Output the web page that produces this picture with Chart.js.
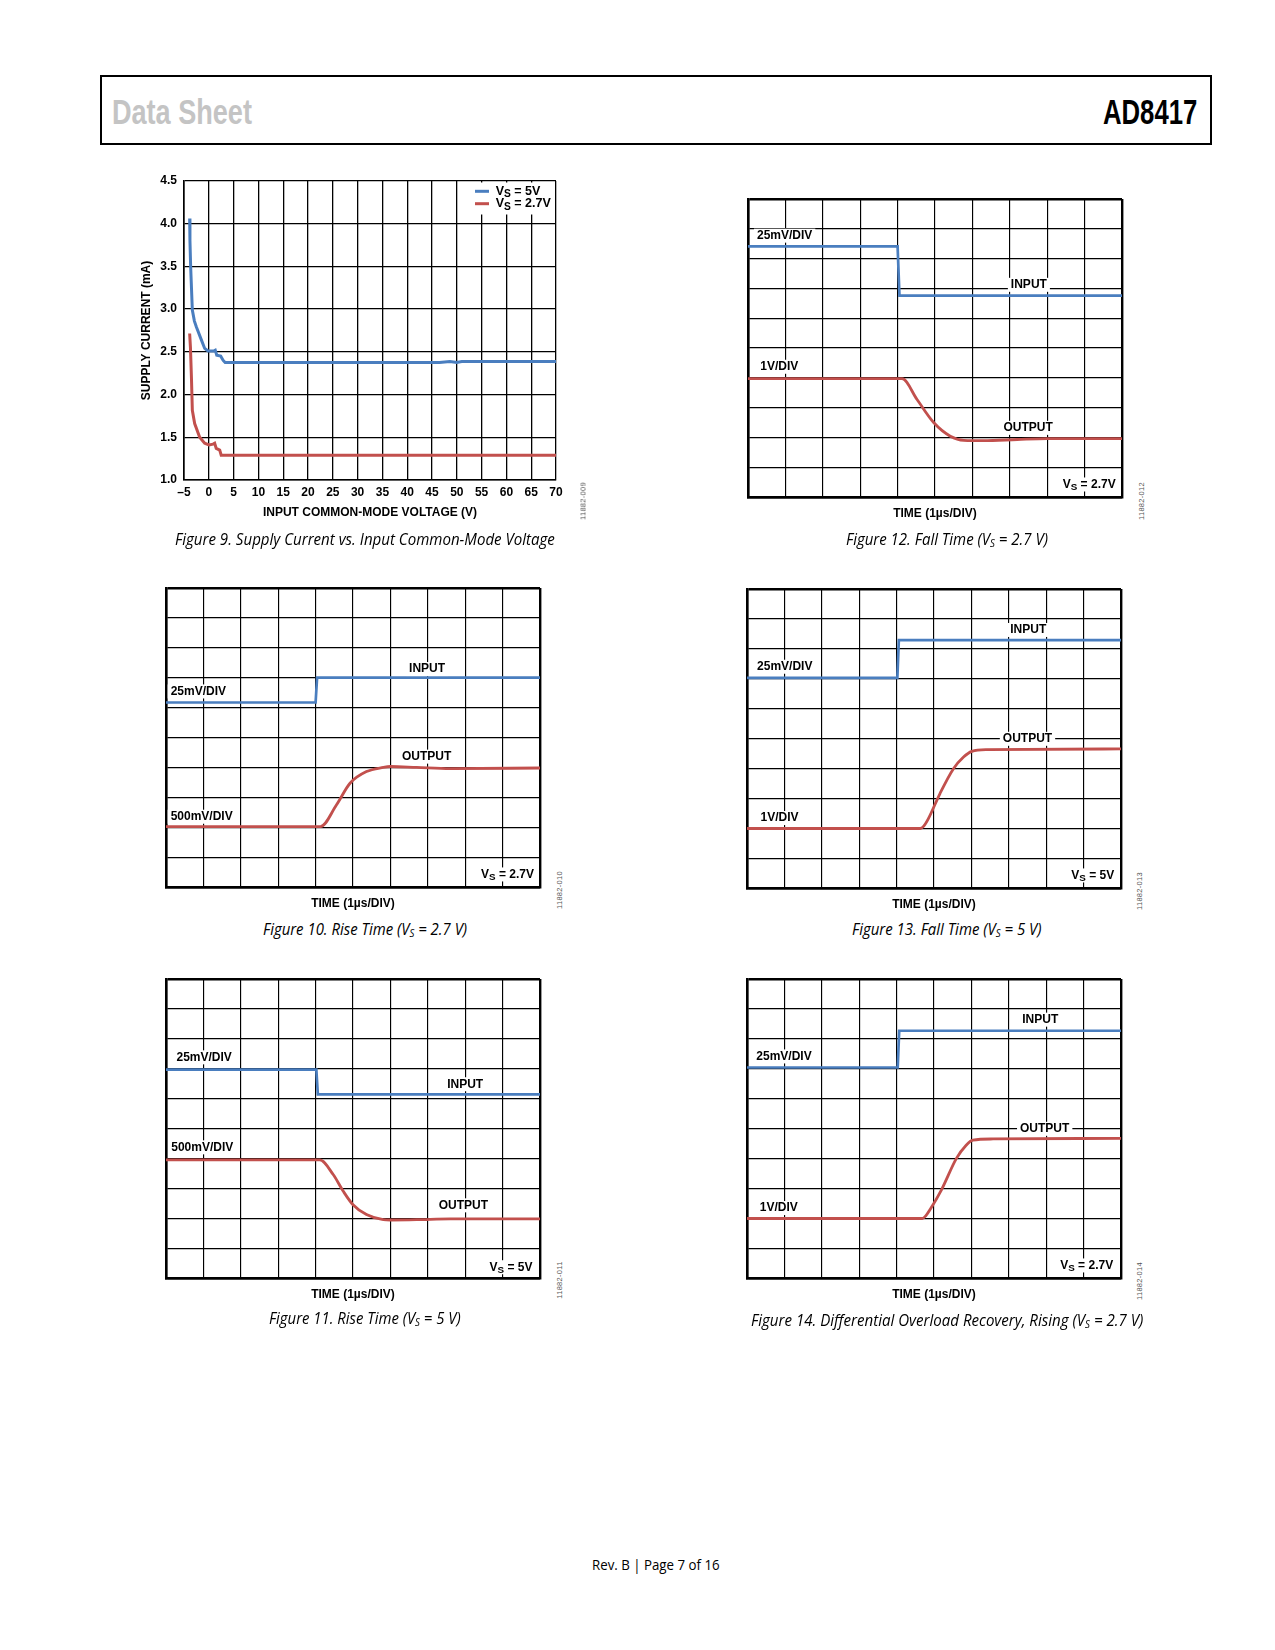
<!DOCTYPE html>
<html><head><meta charset="utf-8">
<script src="https://cdn.jsdelivr.net/npm/chart.js@4.4.1/dist/chart.umd.min.js"></script>
<style>
html,body{margin:0;padding:0;background:#fff;}
#page{position:relative;width:1275px;height:1650px;overflow:hidden;background:#fff;}
.hdr{position:absolute;left:100px;top:75px;width:1112px;height:70px;border:2px solid #000;box-sizing:border-box;}
.htxt{position:absolute;font-family:"Liberation Sans Narrow","Liberation Sans",Arial,sans-serif;font-weight:bold;font-size:35px;line-height:35px;white-space:nowrap;transform-origin:0 0;}
.cap{position:absolute;font-family:"Open Sans",sans-serif;font-style:italic;font-size:15.5px;line-height:15.5px;white-space:nowrap;color:#000;}
.cap sub{font-size:10px;vertical-align:-2px;line-height:0;}
.fid{position:absolute;font-family:"Liberation Sans",Arial,sans-serif;font-size:7.5px;color:#555;white-space:nowrap;transform:translate(-50%,-50%) rotate(-90deg);letter-spacing:0.3px;}
.foot{position:absolute;font-family:"Open Sans",sans-serif;font-size:14px;line-height:14px;white-space:nowrap;color:#000;}
</style>
</head><body>
<div id="page">
  <div class="hdr"></div>
  <div class="htxt" id="ds" style="left:112px;top:94px;color:#c4c4c4;">Data Sheet</div>
  <div class="htxt" id="pn" style="top:94px;color:#000;">AD8417</div>
</div>
<script>
// ---------------- DATA ----------------
// Figure 9: supply current vs input common-mode voltage
const fig9SeriesNames = ['V_S = 5V', 'V_S = 2.7V'];
const fig9Vcm5 = [-3.86, -3.8, -3.66, -3.32, -2.9, -2.5, -1.5, -0.83, -0.16, 1.0, 1.3, 1.6, 2.4, 2.9, 3.3, 46.5, 48.6, 50.0, 51.0, 70];
const fig9I5   = [4.06, 3.8, 3.5, 2.99, 2.86, 2.79, 2.64, 2.54, 2.51, 2.51, 2.52, 2.46, 2.45, 2.40, 2.375, 2.375, 2.387, 2.377, 2.387, 2.387];
const fig9Vcm27 = [-3.86, -3.7, -3.5, -3.32, -2.85, -1.84, -0.83, 0.04, 0.85, 1.18, 1.5, 2.2, 2.5, 70];
const fig9I27   = [2.715, 2.55, 2.2, 1.816, 1.66, 1.50, 1.43, 1.41, 1.42, 1.43, 1.37, 1.35, 1.29, 1.29];
const fig9XTicks = [-5, 70, 5];      // min, max, step (V)
const fig9YTicks = [1.0, 4.5, 0.5];  // min, max, step (mA)

// Scope screens: 10 x 10 divisions, values in divisions
const scopeDivs = [0, 10, 1];
const fig10InT = [0, 4.0, 4.04, 10];
const fig10InV = [6.17, 6.17, 7.0, 7.0];
const fig10OutT = [0, 4.13, 4.56, 4.92, 5.36, 5.81, 6.0, 6.7, 7.6, 10];
const fig10OutV = [2.02, 2.02, 2.75, 3.47, 3.86, 4.0, 4.03, 4.0, 3.96, 3.98];
const fig10Text = ['25mV/DIV', 'INPUT', '500mV/DIV', 'OUTPUT', 'V_S = 2.7V'];

const fig11InT = [0, 4.02, 4.06, 10];
const fig11InV = [6.97, 6.97, 6.14, 6.14];
const fig11OutT = [0, 4.11, 4.47, 4.74, 5.0, 5.36, 5.81, 6.0, 6.7, 7.6, 10];
const fig11OutV = [3.95, 3.95, 3.46, 2.90, 2.45, 2.12, 1.95, 1.94, 1.95, 1.98, 1.98];
const fig11Text = ['25mV/DIV', 'INPUT', '500mV/DIV', 'OUTPUT', 'V_S = 5V'];

const fig12InT = [0, 4.0, 4.05, 10];
const fig12InV = [8.41, 8.41, 6.76, 6.76];
const fig12OutT = [0, 4.12, 4.52, 4.97, 5.41, 5.77, 6.3, 7.2, 8.0, 10];
const fig12OutV = [3.97, 3.97, 3.27, 2.49, 2.04, 1.90, 1.89, 1.93, 1.96, 1.96];
const fig12Text = ['25mV/DIV', 'INPUT', '1V/DIV', 'OUTPUT', 'V_S = 2.7V'];

const fig13InT = [0, 4.02, 4.06, 10];
const fig13InV = [7.03, 7.03, 8.29, 8.29];
const fig13OutT = [0, 4.63, 4.72, 4.85, 5.16, 5.52, 5.79, 6.01, 6.41, 10];
const fig13OutV = [1.99, 1.99, 2.06, 2.32, 3.16, 3.99, 4.38, 4.57, 4.63, 4.65];
const fig13Text = ['INPUT', '25mV/DIV', 'OUTPUT', '1V/DIV', 'V_S = 5V'];

const fig14InT = [0, 4.03, 4.07, 10];
const fig14InV = [7.04, 7.04, 8.27, 8.27];
const fig14OutT = [0, 4.69, 4.78, 4.9, 5.2, 5.6, 5.86, 6.04, 6.58, 10];
const fig14OutV = [1.99, 1.99, 2.08, 2.3, 2.95, 4.0, 4.44, 4.61, 4.65, 4.67];
const fig14Text = ['INPUT', '25mV/DIV', 'OUTPUT', '1V/DIV', 'V_S = 2.7V'];

const captions = [
  'Figure 9. Supply Current vs. Input Common-Mode Voltage',
  'Figure 10. Rise Time (V<sub>S</sub> = 2.7 V)',
  'Figure 11. Rise Time (V<sub>S</sub> = 5 V)',
  'Figure 12. Fall Time (V<sub>S</sub> = 2.7 V)',
  'Figure 13. Fall Time (V<sub>S</sub> = 5 V)',
  'Figure 14. Differential Overload Recovery, Rising (V<sub>S</sub> = 2.7 V)'
];
const figIds = ['11882-009', '11882-010', '11882-011', '11882-012', '11882-013', '11882-014'];
const timeTitle = 'TIME (1µs/DIV)';
const footerText = 'Rev. B | Page 7 of 16';

// ---------------- RENDERING ----------------
const BLUE = '#4a7ebf', RED = '#c2504d';
const FONT = '"Liberation Sans", Arial, Helvetica, sans-serif';
Chart.defaults.font.family = FONT;
Chart.defaults.color = '#000';
const page = document.getElementById('page');

function pts(xs, ys) { return xs.map((x, i) => ({ x: x, y: ys[i] })); }

function makeCanvas(left, top, w, h) {
  const c = document.createElement('canvas');
  c.width = w; c.height = h;
  c.style.cssText = 'position:absolute;left:' + left + 'px;top:' + top + 'px;width:' + w + 'px;height:' + h + 'px;';
  page.appendChild(c);
  return c;
}

function richLayout(ctx, text, x, align, size) {
  const parts = [];
  for (let i = 0; i < text.length; i++) {
    if (text[i] === '_') { parts.push({ t: text[i + 1], sub: true }); i++; }
    else if (parts.length && !parts[parts.length - 1].sub) parts[parts.length - 1].t += text[i];
    else parts.push({ t: text[i], sub: false });
  }
  const main = 'bold ' + size + 'px ' + FONT;
  const sub = 'bold ' + (size * 0.82) + 'px ' + FONT;
  let w = 0;
  parts.forEach(p => { ctx.font = p.sub ? sub : main; p.w = ctx.measureText(p.t).width; w += p.w; });
  const sx = align === 'left' ? x : align === 'right' ? x - w : x - w / 2;
  return { parts: parts, w: w, sx: sx, main: main, sub: sub };
}
function richDraw(ctx, r, y) {
  ctx.textBaseline = 'middle'; ctx.textAlign = 'left'; ctx.fillStyle = '#000';
  let cx = r.sx;
  r.parts.forEach(p => { ctx.font = p.sub ? r.sub : r.main; ctx.fillText(p.t, cx, y + (p.sub ? 3 : 0)); cx += p.w; });
}

const scopeLabelPlugin = {
  id: 'scopeLabels',
  afterDatasetsDraw(chart, args, opts) {
    const ctx = chart.ctx, xs = chart.scales.x, ys = chart.scales.y;
    (opts.items || []).forEach(it => {
      const px = xs.getPixelForValue(it.x), py = ys.getPixelForValue(it.y);
      ctx.save();
      const r = richLayout(ctx, it.text, px, it.align, 12);
      ctx.fillStyle = '#fff';
      ctx.fillRect(r.sx - 3, py - 7, r.w + 6, 14);
      richDraw(ctx, r, py);
      ctx.restore();
    });
  }
};

const legendPlugin = {
  id: 'boxLegend',
  afterDatasetsDraw(chart, args, opts) {
    if (!opts.show) return;
    const ctx = chart.ctx, a = chart.chartArea;
    ctx.save();
    ctx.fillStyle = '#fff';
    ctx.fillRect(a.right - 88, a.top + 1.5, 86.5, 32);
    chart.data.datasets.forEach((ds, i) => {
      const y = a.top + 10.3 + i * 12.4;
      ctx.strokeStyle = ds.borderColor; ctx.lineWidth = 3;
      ctx.beginPath(); ctx.moveTo(a.right - 81, y); ctx.lineTo(a.right - 67, y); ctx.stroke();
      const r = richLayout(ctx, ds.label, a.right - 60.3, 'left', 12.5);
      richDraw(ctx, r, y);
    });
    ctx.restore();
  }
};
Chart.register(scopeLabelPlugin, legendPlugin);

// ----- Figure 9 -----
(function () {
  const L = 120, T = 160, W = 480, H = 375;
  const c = makeCanvas(L, T, W, H);
  new Chart(c, {
    type: 'line',
    data: {
      datasets: [
        { label: fig9SeriesNames[0], data: pts(fig9Vcm5, fig9I5), borderColor: BLUE, borderWidth: 3, pointRadius: 0, tension: 0 },
        { label: fig9SeriesNames[1], data: pts(fig9Vcm27, fig9I27), borderColor: RED, borderWidth: 3, pointRadius: 0, tension: 0 }
      ]
    },
    options: {
      responsive: false, animation: false,
      layout: { padding: { left: 0, top: 21, right: 44, bottom: 0 } },
      plugins: { legend: { display: false }, tooltip: { enabled: false }, boxLegend: { show: true } },
      scales: {
        x: {
          type: 'linear', min: fig9XTicks[0], max: fig9XTicks[1],
          ticks: { stepSize: fig9XTicks[2], padding: 5, color: '#000', font: { size: 12, weight: 'bold' }, maxRotation: 0,
                   callback: v => (v < 0 ? '\u2013' + Math.abs(v) : String(v)) },
          grid: { color: '#000', lineWidth: 1.3, drawTicks: false },
          border: { color: '#000', width: 1.6 },
          title: { display: true, text: 'INPUT COMMON-MODE VOLTAGE (V)', color: '#000', font: { size: 12, weight: 'bold' }, padding: { top: 0, bottom: 14.8 } },
          afterFit: s => { s.height = 55; }
        },
        y: {
          min: fig9YTicks[0], max: fig9YTicks[1],
          ticks: { stepSize: fig9YTicks[2], padding: 7, color: '#000', font: { size: 12, weight: 'bold' }, callback: v => Number(v).toFixed(1) },
          grid: { color: '#000', lineWidth: 1.3, drawTicks: false },
          border: { color: '#000', width: 1.6 },
          title: { display: true, text: 'SUPPLY CURRENT (mA)', color: '#000', font: { size: 12, weight: 'bold' }, padding: { top: 19.8, bottom: 0 } },
          afterFit: s => { s.width = 64; }
        }
      }
    }
  });
})();

// ----- Scope figures -----
function scope(rect, inT, inV, outT, outV, items) {
  const Lp = rect[0], Tp = rect[1], Rp = rect[2], Bp = rect[3];
  const c = makeCanvas(Lp - 10, Tp - 10, Math.round(Rp - Lp + 20), Math.round(Bp - Tp + 40));
  const gw = ctx => (ctx.tick && (ctx.tick.value === scopeDivs[0] || ctx.tick.value === scopeDivs[1])) ? 2.4 : 1.15;
  new Chart(c, {
    type: 'line',
    data: {
      datasets: [
        { label: 'INPUT', data: pts(inT, inV), borderColor: BLUE, borderWidth: 2.7, pointRadius: 0, tension: 0 },
        { label: 'OUTPUT', data: pts(outT, outV), borderColor: RED, borderWidth: 2.8, pointRadius: 0, cubicInterpolationMode: 'monotone' }
      ]
    },
    options: {
      responsive: false, animation: false,
      layout: { padding: { left: 0, top: 10, right: 10, bottom: 0 } },
      plugins: { legend: { display: false }, tooltip: { enabled: false }, scopeLabels: { items: items } },
      scales: {
        x: {
          type: 'linear', min: scopeDivs[0], max: scopeDivs[1],
          ticks: { stepSize: scopeDivs[2], display: false },
          grid: { color: '#000', lineWidth: gw, drawTicks: false },
          border: { color: '#000', width: 2.4 },
          title: { display: true, text: timeTitle, color: '#000', font: { size: 12, weight: 'bold' }, padding: { top: 0, bottom: 5.8 } },
          afterFit: s => { s.height = 30; }
        },
        y: {
          min: scopeDivs[0], max: scopeDivs[1],
          ticks: { stepSize: scopeDivs[2], display: false },
          grid: { color: '#000', lineWidth: gw, drawTicks: false },
          border: { color: '#000', width: 2.4 },
          afterFit: s => { s.width = 10; }
        }
      }
    }
  });
}
function items(texts, pos) { return texts.map((t, i) => ({ text: t, x: pos[i][0], y: pos[i][1], align: pos[i][2] })); }

scope([166.3, 588.3, 540, 887], fig10InT, fig10InV, fig10OutT, fig10OutV,
  items(fig10Text, [[0.125, 6.54, 'left'], [6.98, 7.29, 'center'], [0.125, 2.35, 'left'], [6.97, 4.36, 'center'], [9.84, 0.42, 'right']]));
scope([166.3, 979.3, 540, 1278.3], fig11InT, fig11InV, fig11OutT, fig11OutV,
  items(fig11Text, [[0.28, 7.38, 'left'], [8.0, 6.48, 'center'], [0.14, 4.37, 'left'], [7.95, 2.43, 'center'], [9.8, 0.36, 'right']]));
scope([747.7, 199.3, 1121.5, 497.7], fig12InT, fig12InV, fig12OutT, fig12OutV,
  items(fig12Text, [[0.24, 8.77, 'left'], [7.51, 7.12, 'center'], [0.33, 4.37, 'left'], [7.49, 2.32, 'center'], [9.83, 0.42, 'right']]));
scope([746.7, 589, 1121, 887.7], fig13InT, fig13InV, fig13OutT, fig13OutV,
  items(fig13Text, [[7.52, 8.63, 'center'], [0.27, 7.4, 'left'], [7.5, 4.99, 'center'], [0.36, 2.34, 'left'], [9.82, 0.42, 'right']]));
scope([747.3, 979, 1121, 1277.7], fig14InT, fig14InV, fig14OutT, fig14OutV,
  items(fig14Text, [[7.84, 8.64, 'center'], [0.25, 7.41, 'left'], [7.96, 4.99, 'center'], [0.34, 2.34, 'left'], [9.79, 0.42, 'right']]));

// ----- text: captions, ids, header, footer -----
const capPlaces = [[365, 546, 380], [364.5, 935.5, 204], [365, 1325, 192], [947, 546, 202], [947, 935.5, 190], [947, 1327, 392]];
const capEls = [];
captions.forEach((t, i) => {
  const d = document.createElement('div');
  d.className = 'cap';
  d.innerHTML = t;
  d.style.left = capPlaces[i][0] + 'px';
  d.style.top = (capPlaces[i][1] - 13.8) + 'px';
  page.appendChild(d);
  capEls.push(d);
});
const idPlaces = [[583, 501], [558.6, 890], [558.6, 1280], [1140.5, 501], [1139, 891], [1139, 1281]];
figIds.forEach((t, i) => {
  const d = document.createElement('div');
  d.className = 'fid'; d.textContent = t;
  d.style.left = idPlaces[i][0] + 'px'; d.style.top = idPlaces[i][1] + 'px';
  page.appendChild(d);
});
const ft = document.createElement('div');
ft.className = 'foot'; ft.textContent = footerText;
ft.style.top = (1570 - 12.4) + 'px';
page.appendChild(ft);

function fit() {
  capEls.forEach((d, i) => {
    const w = d.offsetWidth;
    const k = capPlaces[i][2] / w;
    d.style.transformOrigin = '0 0';
    d.style.transform = 'translateX(' + (-capPlaces[i][2] / 2) + 'px) scaleX(' + k + ')';
  });
  const fw = ft.offsetWidth, fk = 128 / fw;
  ft.style.left = '656px';
  ft.style.transformOrigin = '0 0';
  ft.style.transform = 'translateX(-64px) scaleX(' + fk + ')';
  const ds = document.getElementById('ds');
  ds.style.transform = 'scaleX(' + (140 / ds.offsetWidth) + ')';
  const pn = document.getElementById('pn');
  pn.style.left = (1197 - 94) + 'px';
  pn.style.transform = 'scaleX(' + (94 / pn.offsetWidth) + ')';
}
fit();
if (document.fonts && document.fonts.ready) document.fonts.ready.then(fit);
</script>
</body></html>
